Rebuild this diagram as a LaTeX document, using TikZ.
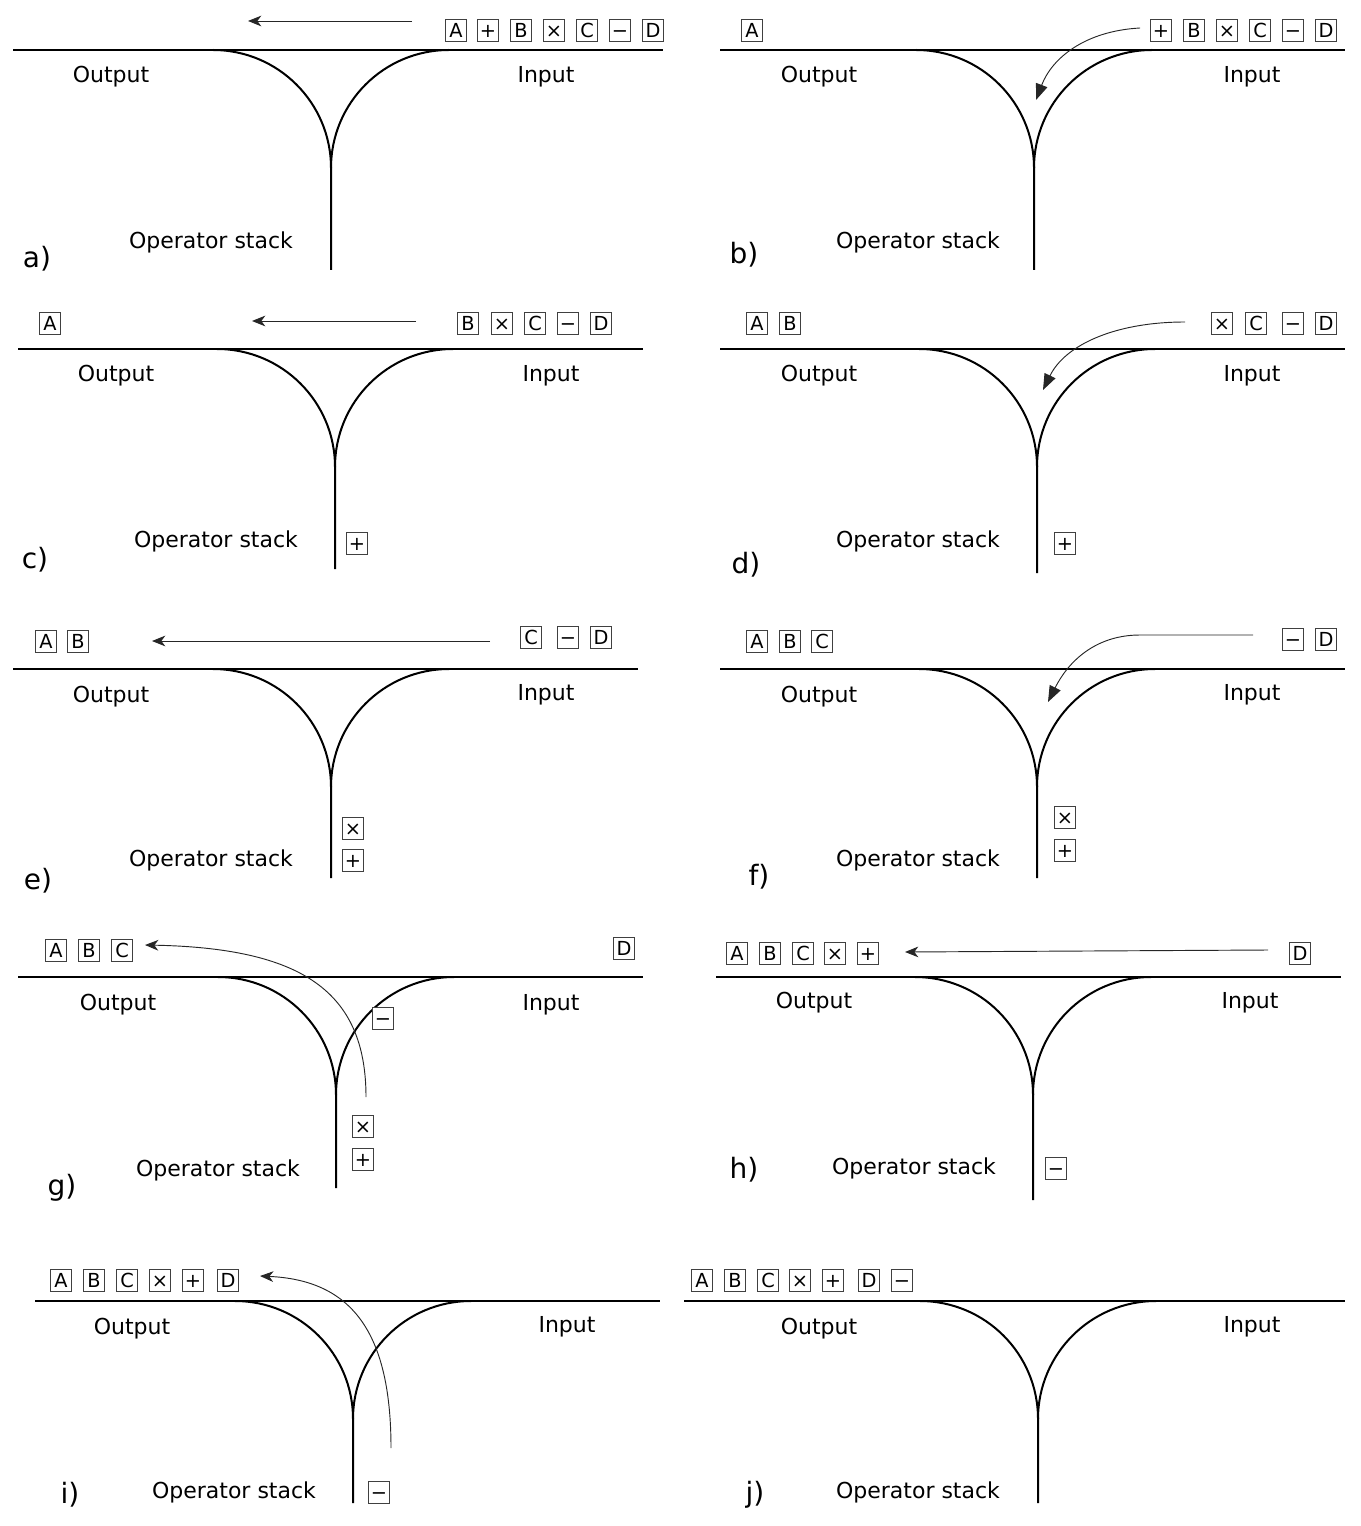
\documentclass[tikz,border=0pt]{standalone}
\usepackage{fontspec}
\setmainfont{DejaVu Sans}
\usetikzlibrary{arrows.meta}
\tikzset{
  track/.style={line width=1.5pt, draw=black},
  tok/.style={draw=black!75, line width=0.7pt, minimum width=15.5pt, minimum height=16.5pt, inner sep=0pt, text height=10.6pt, text depth=0pt, font=\fontsize{14.5}{14.5}\selectfont},
  lbl/.style={inner sep=0pt, font=\fontsize{16.5}{18}\selectfont},
  plab/.style={inner sep=0pt, font=\fontsize{21}{22}\selectfont},
  mv/.style={line width=0.7pt, draw=black!85, -{Stealth[length=10pt,width=8pt,inset=3pt]}},
  mvc/.style={line width=0.7pt, draw=black!85, -{Stealth[length=12pt,width=9pt,inset=0pt]}}
}
\newcommand{\shuntyard}[5]{%
  \draw[track] (#1,#3) -- (#2,#3);
  \draw[track] ({#4-118},#3) arc[start angle=-90,end angle=0,radius=118] -- (#4,#5);
  \draw[track] ({#4+118},#3) arc[start angle=-90,end angle=-180,radius=118];
}
\begin{document}
\begin{tikzpicture}[x=0.75pt,y=-0.75pt]
\useasboundingbox (0,0) rectangle (1360,1526);

% ---------- a ----------
\shuntyard{13}{663}{50}{331}{270}
\node[lbl] (aOut) at (111,77) {Output};
\node[lbl] (aIn) at (546,77) {Input};
\node[lbl] (aStk) at (211,242) {Operator stack};
\node[plab] (aLab) at (37,259) {a)};
\node[tok] (a1) at (456,30) {A};
\node[tok] (a2) at (488,30) {+};
\node[tok] (a3) at (521,30) {B};
\node[tok] (a4) at (554,30) {×};
\node[tok] (a5) at (587,30) {C};
\node[tok] (a6) at (620,30) {−};
\node[tok] (a7) at (653,30) {D};
\coordinate (aS) at (412,21);
\coordinate (aE) at (248,21);
\draw[mv] (aS) -- (aE);

% ---------- b ----------
\shuntyard{720}{1345}{50}{1034}{270}
\node[lbl] (bOut) at (819,77) {Output};
\node[lbl] (bIn) at (1252,77) {Input};
\node[lbl] (bStk) at (918,242) {Operator stack};
\node[plab] (bLab) at (744,255) {b)};
\node[tok] (b1) at (752,30) {A};
\node[tok] (b2) at (1161,30) {+};
\node[tok] (b3) at (1194,30) {B};
\node[tok] (b4) at (1227,30) {×};
\node[tok] (b5) at (1260,30) {C};
\node[tok] (b6) at (1293,30) {−};
\node[tok] (b7) at (1326,30) {D};
\coordinate (bS) at (1140,28);
\coordinate (bE) at (1036,100);
\draw[mvc] (bS) .. controls (1085,31) and (1052,58) .. (bE);

% ---------- c ----------
\shuntyard{18}{643}{349}{335}{569}
\node[lbl] (cOut) at (116,376) {Output};
\node[lbl] (cIn) at (551,376) {Input};
\node[lbl] (cStk) at (216,541) {Operator stack};
\node[plab] (cLab) at (35,560) {c)};
\node[tok] (c1) at (50,323) {A};
\node[tok] (c3) at (468,323) {B};
\node[tok] (c4) at (502,323) {×};
\node[tok] (c5) at (535,323) {C};
\node[tok] (c6) at (568,323) {−};
\node[tok] (c7) at (601,323) {D};
\node[tok] (c2) at (357,543) {+};
\coordinate (cS) at (416,321);
\coordinate (cE) at (252,321);
\draw[mv] (cS) -- (cE);

% ---------- d ----------
\shuntyard{720}{1345}{349}{1037}{573}
\node[lbl] (dOut) at (819,376) {Output};
\node[lbl] (dIn) at (1252,376) {Input};
\node[lbl] (dStk) at (918,541) {Operator stack};
\node[plab] (dLab) at (746,565) {d)};
\node[tok] (d1) at (757,323) {A};
\node[tok] (d3) at (790,323) {B};
\node[tok] (d4) at (1222,323) {×};
\node[tok] (d5) at (1256,323) {C};
\node[tok] (d6) at (1293,323) {−};
\node[tok] (d7) at (1326,323) {D};
\node[tok] (d2) at (1065,543) {+};
\coordinate (dS) at (1185,322);
\coordinate (dE) at (1043,390);
\draw[mvc] (dS) .. controls (1115,322) and (1065,345) .. (dE);

% ---------- e ----------
\shuntyard{13}{638}{669}{331}{878}
\node[lbl] (eOut) at (111,697) {Output};
\node[lbl] (eIn) at (546,695) {Input};
\node[lbl] (eStk) at (211,860) {Operator stack};
\node[plab] (eLab) at (38,881) {e)};
\node[tok] (e1) at (46,641) {A};
\node[tok] (e3) at (78,641) {B};
\node[tok] (e5) at (531,637) {C};
\node[tok] (e6) at (568,637) {−};
\node[tok] (e7) at (601,637) {D};
\node[tok] (e4) at (353,828) {×};
\node[tok] (e2) at (353,860) {+};
\coordinate (eS) at (490,641);
\coordinate (eE) at (152,641);
\draw[mv] (eS) -- (eE);

% ---------- f ----------
\shuntyard{720}{1345}{669}{1037}{878}
\node[lbl] (fOut) at (819,697) {Output};
\node[lbl] (fIn) at (1252,695) {Input};
\node[lbl] (fStk) at (918,860) {Operator stack};
\node[plab] (fLab) at (759,877) {f)};
\node[tok] (f1) at (757,641) {A};
\node[tok] (f3) at (790,641) {B};
\node[tok] (f5) at (822,641) {C};
\node[tok] (f6) at (1293,639) {−};
\node[tok] (f7) at (1326,639) {D};
\node[tok] (f4) at (1065,817) {×};
\node[tok] (f2) at (1065,850) {+};
\coordinate (fS) at (1253,635);
\coordinate (fM) at (1140,635);
\coordinate (fE) at (1048,702);
\draw[mvc] (fS) -- (fM) .. controls (1095,635) and (1068,662) .. (fE);

% ---------- g ----------
\shuntyard{18}{643}{977}{336}{1188}
\node[lbl] (gOut) at (118,1005) {Output};
\node[lbl] (gIn) at (551,1005) {Input};
\node[lbl] (gStk) at (218,1170) {Operator stack};
\node[plab] (gLab) at (62,1188) {g)};
\node[tok] (g1) at (56,950) {A};
\node[tok] (g3) at (89,950) {B};
\node[tok] (g5) at (122,950) {C};
\node[tok] (g7) at (624,948) {D};
\node[tok,fill=white] (g6) at (383,1018) {−};
\node[tok] (g4) at (363,1126) {×};
\node[tok] (g2) at (363,1159) {+};
\coordinate (gS) at (366,1097);
\coordinate (gE) at (145,945);
\draw[mv] (gS) .. controls (366,990) and (300,948) .. (gE);

% ---------- h ----------
\shuntyard{716}{1341}{977}{1033}{1200}
\node[lbl] (hOut) at (814,1003) {Output};
\node[lbl] (hIn) at (1250,1003) {Input};
\node[lbl] (hStk) at (914,1168) {Operator stack};
\node[plab] (hLab) at (744,1170) {h)};
\node[tok] (h1) at (737,953) {A};
\node[tok] (h3) at (770,953) {B};
\node[tok] (h5) at (803,953) {C};
\node[tok] (h4) at (835,953) {×};
\node[tok] (h2) at (868,953) {+};
\node[tok] (h7) at (1300,953) {D};
\node[tok] (h6) at (1056,1168) {−};
\coordinate (hS) at (1268,950);
\coordinate (hE) at (905,952);
\draw[mv] (hS) -- (hE);

% ---------- i ----------
\shuntyard{35}{660}{1301}{353}{1503}
\node[lbl] (iOut) at (132,1329) {Output};
\node[lbl] (iIn) at (567,1327) {Input};
\node[lbl] (iStk) at (234,1492) {Operator stack};
\node[plab] (iLab) at (70,1495) {i)};
\node[tok] (i1) at (61,1280) {A};
\node[tok] (i3) at (94,1280) {B};
\node[tok] (i5) at (127,1280) {C};
\node[tok] (i4) at (160,1280) {×};
\node[tok] (i2) at (193,1280) {+};
\node[tok] (i7) at (228,1280) {D};
\node[tok] (i6) at (379,1492) {−};
\coordinate (iS) at (391,1448);
\coordinate (iE) at (260,1276);
\draw[mv] (iS) .. controls (391,1330) and (350,1280) .. (iE);

% ---------- j ----------
\shuntyard{684}{1345}{1301}{1038}{1503}
\node[lbl] (jOut) at (819,1329) {Output};
\node[lbl] (jIn) at (1252,1327) {Input};
\node[lbl] (jStk) at (918,1492) {Operator stack};
\node[plab] (jLab) at (755,1495) {j)};
\node[tok] (j1) at (702,1280) {A};
\node[tok] (j3) at (735,1280) {B};
\node[tok] (j5) at (768,1280) {C};
\node[tok] (j4) at (800,1280) {×};
\node[tok] (j2) at (833,1280) {+};
\node[tok] (j7) at (869,1280) {D};
\node[tok] (j6) at (902,1280) {−};
\end{tikzpicture}
\end{document}
